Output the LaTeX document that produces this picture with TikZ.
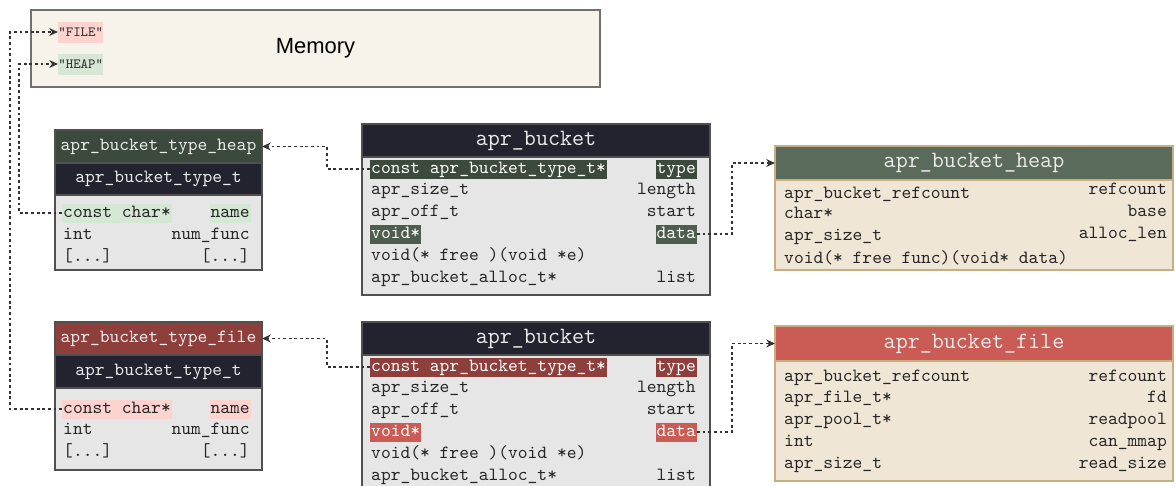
\documentclass[tikz,border=0pt]{standalone}
\usepackage{fontspec}
\setmainfont{Liberation Sans}
\usetikzlibrary{arrows.meta}

\definecolor{memfill}{HTML}{F8F3EA}
\definecolor{memline}{HTML}{707070}
\definecolor{filepink}{HTML}{FDD3CF}
\definecolor{heapmint}{HTML}{D6E8D5}
\definecolor{heapdark}{HTML}{3B4A3C}
\definecolor{heapptr}{HTML}{4D5D4E}
\definecolor{heapmid}{HTML}{5B6B5B}
\definecolor{filedark}{HTML}{8F3F3B}
\definecolor{filemid}{HTML}{CA5C55}
\definecolor{navy}{HTML}{23232F}
\definecolor{bodygray}{HTML}{E6E6E6}
\definecolor{boxline}{HTML}{505050}
\definecolor{cream}{HTML}{F0E6D6}
\definecolor{tan}{HTML}{C8AF83}

\tikzset{
        box/.style={anchor=north west, inner sep=0pt, outer sep=0pt, line width=0.6pt},
        hdrtext/.style={text=white!92!black, font=\fontsize{10.6}{12}\selectfont\ttfamily},
        bigtext/.style={text=white!92!black, font=\fontsize{13.3}{15}\selectfont\ttfamily},
        lft/.style={anchor=west, inner xsep=0.5pt, inner ysep=0.02cm, text height=0.26cm, text depth=0.08cm,
          text=black!85, font=\fontsize{10.6}{12}\selectfont\ttfamily},
        rgt/.style={lft, anchor=east},
        hl/.style={fill=#1},
        hlw/.style={fill=#1, text=white},
        str/.style={anchor=west, inner xsep=0pt, inner ysep=0.04cm, text height=0.25cm, text depth=0.09cm,
          text=black!80, font=\fontsize{8}{9}\selectfont\ttfamily},
        link/.style={draw=black!80, line width=0.6pt, dash pattern=on 1.6pt off 1.6pt, -{Stealth[length=5pt, width=4.5pt]}}
          }

\begin{document}
\begin{tikzpicture}
        \useasboundingbox (0,0) rectangle (23.5,-9.7);
        \clip (0,0) rectangle (23.5,-9.7);

        % memory with the two type names
        \node[box, draw=memline, fill=memfill, minimum width=11.38cm, minimum height=1.54cm,
          font=\fontsize{12.5}{15}\selectfont] (mem) at (0.62,-0.2) {Memory};
        \node[str, fill=filepink] (filestr) at (1.16,-0.64) {"FILE"};
        \node[str, fill=heapmint] (heapstr) at (1.16,-1.28) {"HEAP"};

        % apr_bucket_type_t for heap buckets
        \node[box, draw=boxline, fill=heapdark, minimum width=4.14cm, minimum height=0.66cm, hdrtext] (theap) at (1.1,-2.6) {apr\_bucket\_type\_heap};
        \node[box, draw=boxline, fill=navy, minimum width=4.14cm, minimum height=0.64cm, hdrtext] (theapt) at (theap.south west) {apr\_bucket\_type\_t};
        \node[box, draw=boxline, fill=bodygray, minimum width=4.14cm, minimum height=1.5cm] (theapbody) at (theapt.south west) {};
        \node[lft, hl=heapmint] (theapname) at (1.24,-4.26) {const char*};
        \node[rgt, hl=heapmint] (theapnamer) at (5.02,-4.26) {name};
        \node[lft] (theapint) at (1.24,-4.7) {int};
        \node[rgt] (theapnum) at (5.02,-4.7) {num\_func};
        \node[lft] (theapdots) at (1.24,-5.14) {[...]};
        \node[rgt] (theapdotsr) at (5.02,-5.14) {[...]};

        % apr_bucket_type_t for file buckets
        \node[box, draw=boxline, fill=filedark, minimum width=4.14cm, minimum height=0.66cm, hdrtext] (tfile) at (1.1,-6.44) {apr\_bucket\_type\_file};
        \node[box, draw=boxline, fill=navy, minimum width=4.14cm, minimum height=0.66cm, hdrtext] (tfilet) at (tfile.south west) {apr\_bucket\_type\_t};
        \node[box, draw=boxline, fill=bodygray, minimum width=4.14cm, minimum height=1.64cm] (tfilebody) at (tfilet.south west) {};
        \node[lft, hl=filepink] (tfilename) at (1.24,-8.18) {const char*};
        \node[rgt, hl=filepink] (tfilenamer) at (5.02,-8.18) {name};
        \node[lft] (tfileint) at (1.24,-8.6) {int};
        \node[rgt] (tfilenum) at (5.02,-8.6) {num\_func};
        \node[lft] (tfiledots) at (1.24,-9.04) {[...]};
        \node[rgt] (tfiledotsr) at (5.02,-9.04) {[...]};

        % the heap bucket
        \node[box, draw=boxline, fill=navy, minimum width=6.96cm, minimum height=0.66cm, bigtext] (bheap) at (7.24,-2.48) {apr\_bucket};
        \node[box, draw=boxline, fill=bodygray, minimum width=6.96cm, minimum height=2.76cm] (bheapbody) at (bheap.south west) {};
        \node[lft, hlw=heapdark] (bheaptype) at (7.4,-3.38) {const apr\_bucket\_type\_t*\ };
        \node[rgt, hlw=heapdark] (bheaptyper) at (13.94,-3.38) {type};
        \node[lft] (bheapsize) at (7.4,-3.8) {apr\_size\_t};
        \node[rgt] (bheaplen) at (13.94,-3.8) {length};
        \node[lft] (bheapoff) at (7.4,-4.24) {apr\_off\_t};
        \node[rgt] (bheapstart) at (13.94,-4.24) {start};
        \node[lft, hlw=heapptr] (bheapvoid) at (7.4,-4.68) {void*};
        \node[rgt, hlw=heapptr] (bheapdata) at (13.94,-4.68) {data};
        \node[lft] (bheapfree) at (7.4,-5.12) {void(* free )(void *e)};
        \node[lft] (bheapalloc) at (7.4,-5.56) {apr\_bucket\_alloc\_t*};
        \node[rgt] (bheaplist) at (13.94,-5.56) {list};

        % the file bucket
        \node[box, draw=boxline, fill=navy, minimum width=6.96cm, minimum height=0.66cm, bigtext] (bfile) at (7.24,-6.44) {apr\_bucket};
        \node[box, draw=boxline, fill=bodygray, minimum width=6.96cm, minimum height=2.76cm] (bfilebody) at (bfile.south west) {};
        \node[lft, hlw=filedark] (bfiletype) at (7.4,-7.34) {const apr\_bucket\_type\_t*\ };
        \node[rgt, hlw=filedark] (bfiletyper) at (13.94,-7.34) {type};
        \node[lft] (bfilesize) at (7.4,-7.76) {apr\_size\_t};
        \node[rgt] (bfilelen) at (13.94,-7.76) {length};
        \node[lft] (bfileoff) at (7.4,-8.2) {apr\_off\_t};
        \node[rgt] (bfilestart) at (13.94,-8.2) {start};
        \node[lft, hlw=filemid] (bfilevoid) at (7.4,-8.64) {void*};
        \node[rgt, hlw=filemid] (bfiledata) at (13.94,-8.64) {data};
        \node[lft] (bfilefree) at (7.4,-9.08) {void(* free )(void *e)};
        \node[lft] (bfilealloc) at (7.4,-9.52) {apr\_bucket\_alloc\_t*};
        \node[rgt] (bfilelist) at (13.94,-9.52) {list};

        % apr_bucket_heap data
        \node[box, draw=tan, fill=heapmid, minimum width=7.96cm, minimum height=0.68cm, bigtext] (dheap) at (15.5,-2.92) {apr\_bucket\_heap};
        \node[box, draw=tan, fill=cream, minimum width=7.96cm, minimum height=1.8cm] (dheapbody) at (dheap.south west) {};
        \node[lft] (dheapref) at (15.66,-3.88) {apr\_bucket\_refcount};
        \node[rgt] (dheaprefr) at (23.36,-3.8) {refcount};
        \node[lft] (dheapchar) at (15.66,-4.28) {char*};
        \node[rgt] (dheapbase) at (23.36,-4.24) {base};
        \node[lft] (dheapsize) at (15.66,-4.72) {apr\_size\_t};
        \node[rgt] (dheaplen) at (23.36,-4.68) {alloc\_len};
        \node[lft] (dheapfree) at (15.66,-5.18) {void(* free func)(void* data)};

        % apr_bucket_file data
        \node[box, draw=tan, fill=filemid, minimum width=7.96cm, minimum height=0.7cm, bigtext] (dfile) at (15.5,-6.52) {apr\_bucket\_file};
        \node[box, draw=tan, fill=cream, minimum width=7.96cm, minimum height=2.4cm] (dfilebody) at (dfile.south west) {};
        \node[lft] (dfileref) at (15.66,-7.54) {apr\_bucket\_refcount};
        \node[rgt] (dfilerefr) at (23.36,-7.54) {refcount};
        \node[lft] (dfilefd) at (15.66,-7.96) {apr\_file\_t*};
        \node[rgt] (dfilefdr) at (23.36,-7.96) {fd};
        \node[lft] (dfilepool) at (15.66,-8.4) {apr\_pool\_t*};
        \node[rgt] (dfilepoolr) at (23.36,-8.4) {readpool};
        \node[lft] (dfileint) at (15.66,-8.84) {int};
        \node[rgt] (dfilemmap) at (23.36,-8.84) {can\_mmap};
        \node[lft] (dfilesize) at (15.66,-9.28) {apr\_size\_t};
        \node[rgt] (dfileread) at (23.36,-9.28) {read\_size};

        % pointers
        \draw[link] (bheaptype.west) -- ++(-0.86,0) |- (theap.east);
        \draw[link] (bheapdata.east) -- ++(0.7,0) |- (dheap.west);
        \draw[link] (bfiletype.west) -- ++(-0.86,0) |- (tfile.east);
        \draw[link] (bfiledata.east) -- ++(0.7,0) |- (dfile.west);
        \draw[link] (theapname.west) -- ++(-0.86,0) |- (heapstr.west);
        \draw[link] (tfilename.west) -- ++(-1.04,0) |- (filestr.west);
      \end{tikzpicture}
\end{document}
